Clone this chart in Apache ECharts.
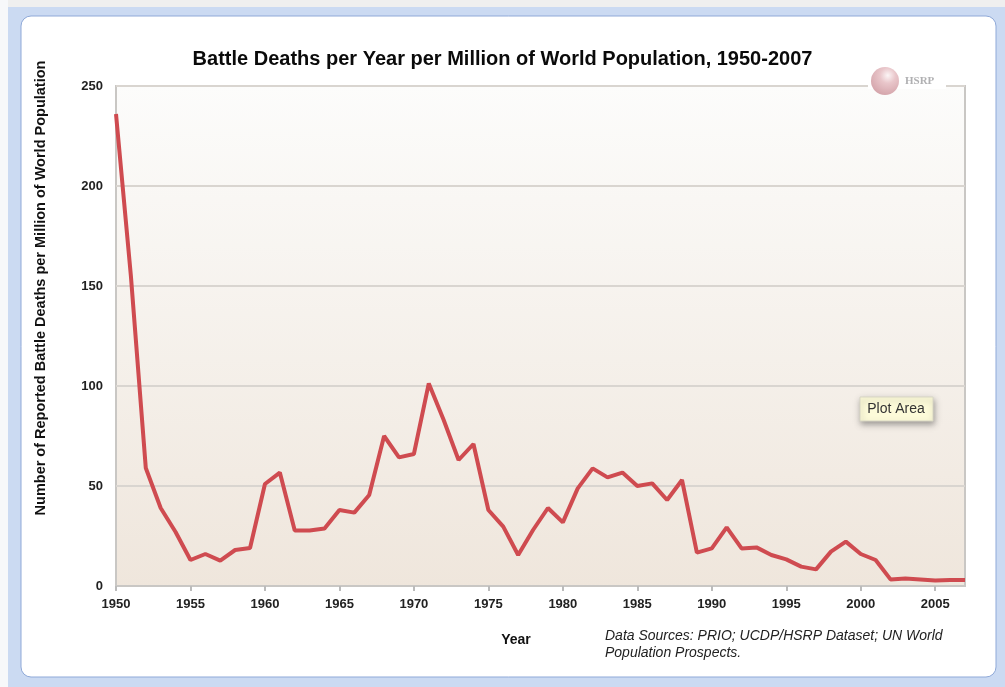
<!DOCTYPE html>
<html>
<head>
<meta charset="utf-8">
<style>
html,body{margin:0;padding:0;background:#fff;}
#chart{width:1005px;height:687px;}
</style>
<script src="https://cdn.jsdelivr.net/npm/echarts@6/dist/echarts.min.js"></script>
</head>
<body>
<div id="chart"></div>
<script>
const years = [1950,1951,1952,1953,1954,1955,1956,1957,1958,1959,
  1960,1961,1962,1963,1964,1965,1966,1967,1968,1969,
  1970,1971,1972,1973,1974,1975,1976,1977,1978,1979,
  1980,1981,1982,1983,1984,1985,1986,1987,1988,1989,
  1990,1991,1992,1993,1994,1995,1996,1997,1998,1999,
  2000,2001,2002,2003,2004,2005,2006,2007];
const deaths = [236,155,59,39,27,13,16,12.7,18,19,
  51,56.7,27.7,27.7,28.7,38,36.7,45.5,75,64.3,
  66,101.3,83,63,71,38,29.7,15.5,28,39,
  31.8,48.8,58.8,54.3,56.7,50,51.3,43,53,16.7,
  18.8,29.3,18.8,19.3,15.5,13.3,9.7,8.3,17.2,22.2,
  16,13,3.3,3.8,3.3,2.7,3,3];
const yTicks = [0,50,100,150,200,250];
const titleText = 'Battle Deaths per Year per Million of World Population, 1950-2007';
const yName = 'Number of Reported Battle Deaths per Million of World Population';
const xName = 'Year';
const sourceLines = ['Data Sources: PRIO; UCDP/HSRP Dataset; UN World', 'Population Prospects.'];

const chart = echarts.init(document.getElementById('chart'), null, {renderer:'canvas'});
const FONT = '"Liberation Sans", Arial, sans-serif';

chart.setOption({
  animation:false,
  backgroundColor:'#ffffff',
  title:{
    text:titleText, left:'center', top:44,
    textStyle:{fontFamily:FONT, fontWeight:'bold', fontSize:20, color:'#0a0a0a'}
  },
  grid:{
    left:116, right:40, top:86, bottom:101,
    show:true,
    borderColor:'#c9c7c4', borderWidth:2,
    backgroundColor:new echarts.graphic.LinearGradient(0,0,0,1,[
      {offset:0, color:'#fcfcfb'},
      {offset:1, color:'#efe6dc'}
    ])
  },
  xAxis:{
    type:'value', min:1950, max:2007, interval:5,
    axisLine:{show:true, lineStyle:{color:'#c9c7c4', width:2}},
    axisTick:{show:true, length:5, lineStyle:{color:'#bbb', width:2}},
    splitLine:{show:false},
    axisLabel:{fontFamily:FONT, fontWeight:'bold', fontSize:13, color:'#222', margin:12,
      showMaxLabel:false, formatter:v=>String(v)}
  },
  yAxis:{
    type:'value', min:0, max:250, interval:50,
    axisLine:{show:false},
    axisTick:{show:false},
    splitLine:{show:true, lineStyle:{color:'#d9d5d0', width:2}},
    axisLabel:{fontFamily:FONT, fontWeight:'bold', fontSize:13, color:'#222', margin:13,
      formatter:v=> yTicks.includes(v) ? String(v) : ''}
  },
  series:[{
    type:'line',
    data:years.map((y,i)=>[y,deaths[i]]),
    symbol:'none',
    lineStyle:{color:'#cf4b50', width:4},
    z:5
  }],
  graphic:[
    // window frame
    {type:'rect', z:-10, silent:true, shape:{x:0,y:0,width:1005,height:687}, style:{fill:'#cbdaf2'}},
    {type:'rect', z:-10, silent:true, shape:{x:0,y:0,width:1005,height:7}, style:{fill:'#efefef'}},
    {type:'rect', z:-10, silent:true, shape:{x:0,y:0,width:8,height:687}, style:{fill:'#f7f8fa'}},
    {type:'rect', z:-9, silent:true, shape:{x:21,y:16,width:975,height:661,r:10}, style:{fill:'#ffffff', stroke:'#8fa9d8', lineWidth:1}},
    // y-axis name
    {type:'text', z:10, x:41, y:288, rotation:Math.PI/2, silent:true,
      style:{text:yName, font:'bold 14.5px '+FONT, fill:'#111', textAlign:'center', textVerticalAlign:'middle'}},
    // x-axis name
    {type:'text', z:10, x:516, y:640, silent:true,
      style:{text:xName, font:'bold 14px '+FONT, fill:'#111', textAlign:'center', textVerticalAlign:'middle'}},
    // sources
    {type:'text', z:10, x:605, y:636, silent:true,
      style:{text:sourceLines[0], font:'italic 14px '+FONT, fill:'#222', textAlign:'left', textVerticalAlign:'middle'}},
    {type:'text', z:10, x:605, y:653, silent:true,
      style:{text:sourceLines[1], font:'italic 14px '+FONT, fill:'#222', textAlign:'left', textVerticalAlign:'middle'}},
    // HSRP logo
    {type:'rect', z:20, silent:true, shape:{x:868,y:82,width:78,height:7}, style:{fill:'#ffffff'}},
    {type:'circle', z:21, silent:true, shape:{cx:885,cy:81,r:14},
      style:{opacity:0.85, fill:new echarts.graphic.RadialGradient(0.6,0.3,0.8,[
        {offset:0,color:'#fbf3f4'},{offset:0.35,color:'#e5bcc1'},{offset:1,color:'#c98e96'}])}},
    {type:'text', z:21, x:905, y:81, silent:true,
      style:{text:'HSRP', font:'bold 11px "Liberation Serif", serif', fill:'#b0b0b2', textVerticalAlign:'middle'}},
    // Plot Area tooltip
    {type:'rect', z:30, silent:true, shape:{x:860,y:397,width:73,height:24},
      style:{fill:'#fdfbd9', stroke:'#d8d6c4', lineWidth:1, shadowBlur:6, shadowOffsetX:1, shadowOffsetY:3, shadowColor:'rgba(0,0,0,0.35)'}},
    {type:'text', z:31, x:896, y:409, silent:true,
      style:{text:'Plot Area', font:'14px '+FONT, fill:'#333', textAlign:'center', textVerticalAlign:'middle'}}
  ]
});
</script>
</body>
</html>
